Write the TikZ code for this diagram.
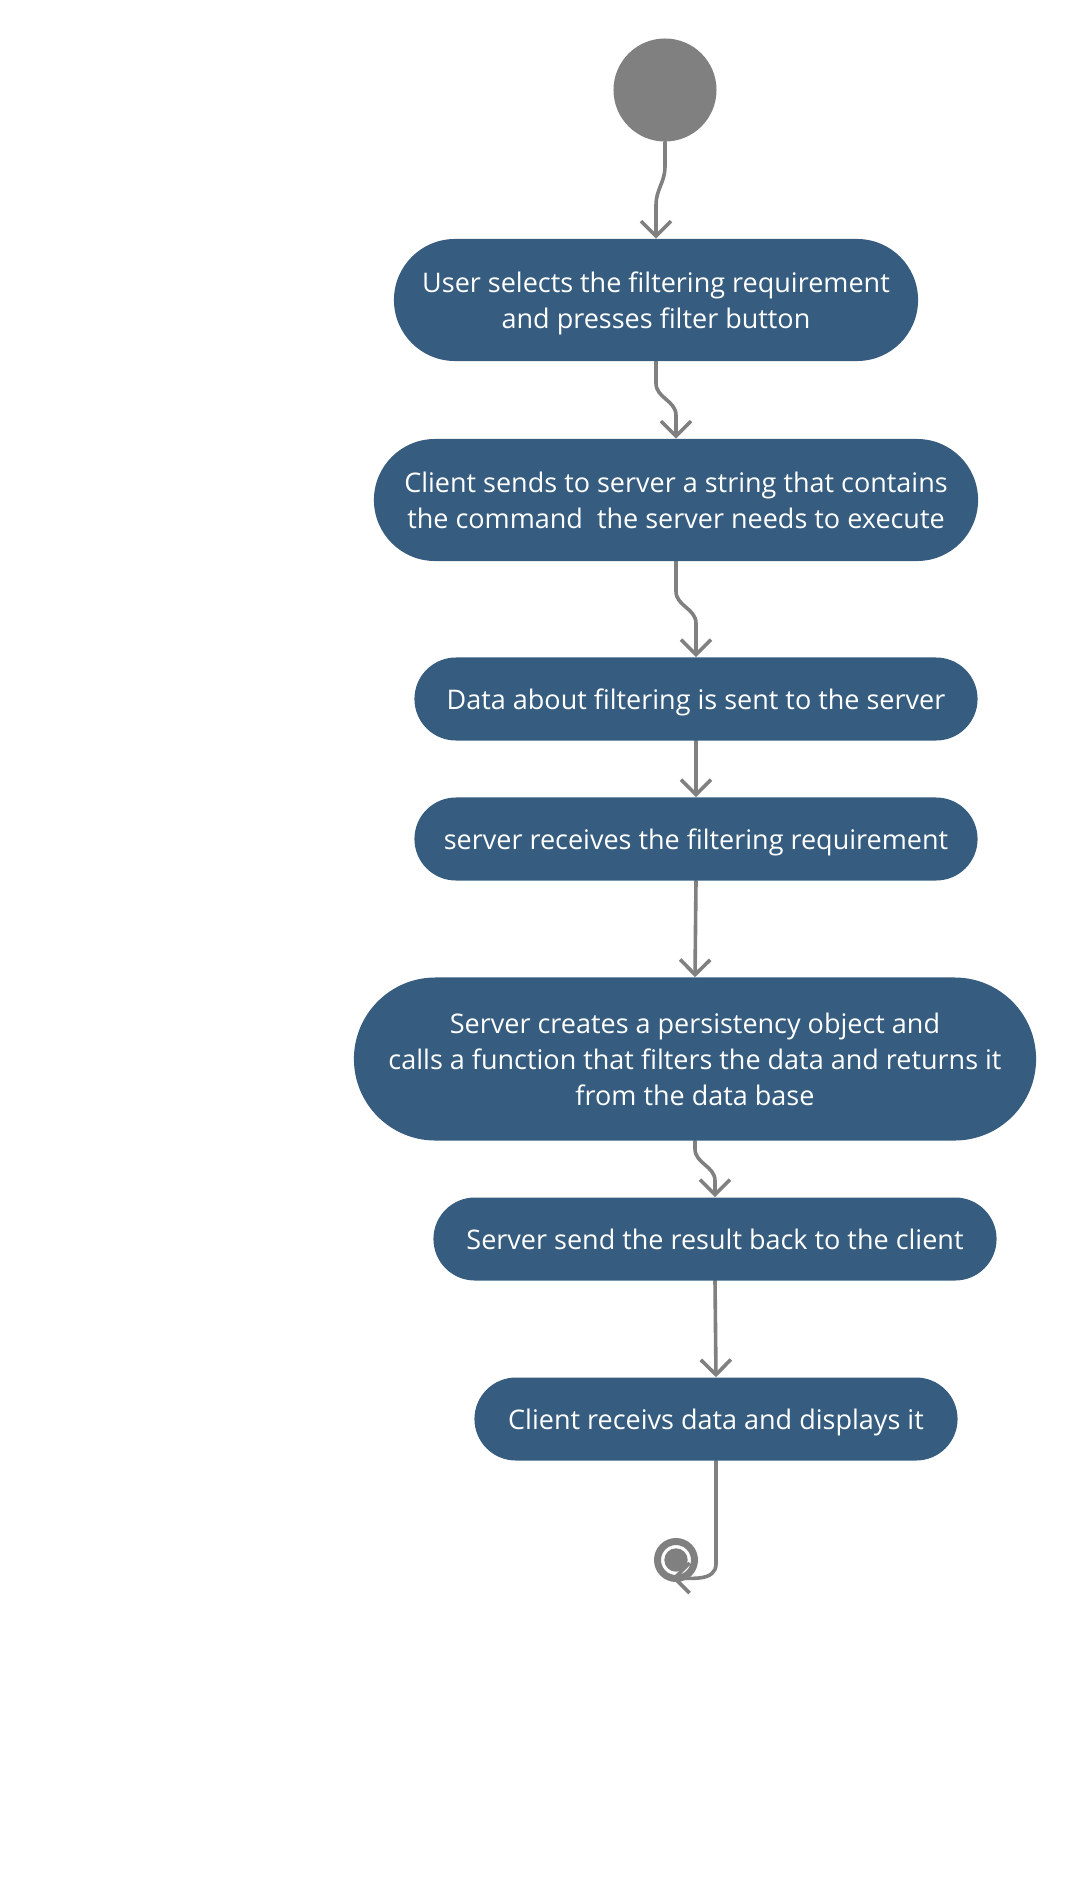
\documentclass[tikz,border=0pt]{standalone}
\usepackage{fontspec}
\setmainfont{Open Sans}
\usetikzlibrary{positioning,arrows.meta,shapes.misc,backgrounds}
\definecolor{actblue}{RGB}{54,93,127}
\definecolor{flowgray}{RGB}{128,128,128}

\begin{document}
\begin{tikzpicture}[x=0.025cm, y=-0.025cm,
  act/.style={rounded rectangle, fill=actblue, text=white, align=center, inner sep=0pt,
    text depth=-1.5pt, font=\fontsize{19.2}{25.6}\selectfont},
  flow/.style={draw=flowgray, line width=0.9mm, line cap=round,
    -{Straight Barb[length=3.75mm,width=7.5mm]}}]
\useasboundingbox (0,0) rectangle (1076,1879);
% activities
\node[circle, fill=flowgray, minimum size=2.575cm, inner sep=0pt] (start) at (665,90) {};
\node[act, minimum width=13.1cm, minimum height=3.05cm] (select) at (656,300)
  {User selects the filtering requirement\\and presses filter button};
\node[act, minimum width=15.1cm, minimum height=3.05cm] (send) at (676,500)
  {Client sends to server a string that contains\\the command~ the server needs to execute};
\node[act, minimum width=14.075cm, minimum height=2.075cm] (data) at (696,699)
  {Data about filtering is sent to the server};
\node[act, minimum width=14.075cm, minimum height=2.075cm] (recv) at (696,839)
  {server receives the filtering requirement};
\node[act, minimum width=17.05cm, minimum height=4.075cm] (create) at (695,1059)
  {Server creates a persistency object and\\calls a function that filters the data and returns it\\from the data base};
\node[act, minimum width=14.075cm, minimum height=2.075cm] (result) at (715,1239)
  {Server send the result back to the client};
\node[act, minimum width=12.075cm, minimum height=2.075cm] (display) at (716,1419)
  {Client receivs data and displays it};
\node[circle, fill=flowgray, minimum size=0.585cm, inner sep=0pt] (stop) at (676,1560) {};
\draw[flowgray, line width=1.75mm] (stop.center) circle (0.4625cm);
\coordinate (stoptip) at (672,1578);
% flows
\begin{scope}[on background layer]
\draw[flow] (start.south) -- ++(0,25) to[out=-90,in=90] ++(-9,38) -- (select.north);
\draw[flow] (select.south) -- ++(0,22) to[out=-90,in=90] ++(20,32) -- (send.north);
\draw[flow] (send.south) -- ++(0,30) to[out=-90,in=90] ++(20,32) -- (data.north);
\draw[flow] (data.south) -- (recv.north);
\draw[flow] (recv.south) -- (create.north);
\draw[flow] (create.south) -- ++(0,8) to[out=-90,in=90] ++(20,32) -- (result.north);
\draw[flow] (result.south) -- (display.north);
\draw[flow] (display.south) -- ++(0,103) to[out=-90,in=0] (stoptip);
\end{scope}
\end{tikzpicture}
\end{document}
